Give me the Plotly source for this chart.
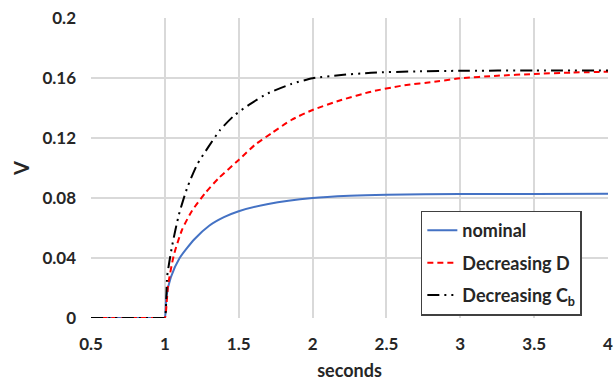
import plotly.graph_objects as go

# --- data ---
t_nominal = [0.5, 0.75, 0.99, 1.0, 1.01, 1.04, 1.1, 1.2, 1.3, 1.4, 1.5, 1.7, 2.0, 2.25,
             2.5, 3.0, 3.5, 4.0]
v_nominal = [0, 0, 0, 0, 0.014, 0.027, 0.040, 0.0525, 0.0615, 0.0672, 0.0712, 0.0760,
             0.0800, 0.0815, 0.0822, 0.0826, 0.0827, 0.0828]

t_dec_d = [0.5, 0.75, 0.99, 1.0, 1.022, 1.061, 1.117, 1.184, 1.275, 1.365, 1.5, 1.608,
           1.721, 1.856, 2.0, 2.194, 2.397, 2.6, 2.85, 3.0, 3.25, 3.5, 3.75, 4.0]
v_dec_d = [0, 0, 0, 0, 0.022, 0.042, 0.059, 0.0715, 0.0835, 0.0933, 0.1054, 0.1153,
           0.1231, 0.132, 0.1387, 0.1453, 0.1509, 0.1548, 0.1578, 0.1598, 0.1615, 0.1627,
           0.1636, 0.1642]

t_dec_cb = [0.5, 0.75, 0.99, 1.0, 1.016, 1.05, 1.095, 1.151, 1.218, 1.297, 1.376, 1.473,
            1.585, 1.698, 1.856, 2.0, 2.194, 2.397, 2.7, 3.0, 3.5, 4.0]
v_dec_cb = [0, 0, 0, 0, 0.028, 0.0485, 0.0689, 0.0867, 0.1022, 0.1144, 0.1256, 0.1353,
            0.1431, 0.1498, 0.156, 0.1598, 0.162, 0.1635, 0.1644, 0.1648, 0.165, 0.165]

x_ticks = [0.5, 1, 1.5, 2, 2.5, 3, 3.5, 4]
x_tick_text = ["0.5", "1", "1.5", "2", "2.5", "3", "3.5", "4"]
y_ticks = [0, 0.04, 0.08, 0.12, 0.16, 0.2]
y_tick_text = ["0", "0.04", "0.08", "0.12", "0.16", "0.2"]

FONT = "Lato"
TXT = "#262626"
GRID = "#d9d9d9"

fig = go.Figure()
fig.add_trace(go.Scatter(x=t_nominal, y=v_nominal, mode="lines", name="nominal",
                         legendgroup="a",
                         line=dict(color="#4472C4", width=2, shape="spline", smoothing=0.6)))
fig.add_trace(go.Scatter(x=t_dec_d, y=v_dec_d, mode="lines", name="Decreasing D",
                         legendgroup="b",
                         line=dict(color="#FF0000", width=2, dash="6px,4px",
                                   shape="spline", smoothing=0.6)))
fig.add_trace(go.Scatter(x=t_dec_cb, y=v_dec_cb, mode="lines",
                         name="Decreasing C<sub>b</sub>", legendgroup="c",
                         line=dict(color="#000000", width=2,
                                   dash="12px,5px,2px,5px,2px,5px",
                                   shape="spline", smoothing=0.6)))

fig.update_layout(
    width=616, height=384,
    margin=dict(l=91, r=3, t=18, b=66),
    paper_bgcolor="white", plot_bgcolor="white",
    font=dict(family=FONT, color=TXT),
    showlegend=True,
    legend=dict(x=0.638, y=0.358, xanchor="left", yanchor="top",
                bgcolor="white", bordercolor="#404040", borderwidth=1.5,
                font=dict(family=FONT, size=18, color=TXT, weight="bold"),
                tracegroupgap=6, traceorder="grouped"),
    xaxis=dict(range=[0.5, 4], tickmode="array", tickvals=x_ticks, ticktext=x_tick_text,
               showgrid=True, gridcolor=GRID, gridwidth=1.5, zeroline=False,
               showline=False, ticks="", ticklabelstandoff=14,
               ticklabeloverflow="allow",
               tickfont=dict(family=FONT, size=17, color=TXT, weight="bold"),
               title=dict(text="seconds", standoff=11,
                          font=dict(family=FONT, size=18, color=TXT, weight="bold"))),
    yaxis=dict(range=[0, 0.2], tickmode="array", tickvals=y_ticks, ticktext=y_tick_text,
               showgrid=True, gridcolor=GRID, gridwidth=1.5, zeroline=False,
               showline=False, ticks="", ticklabelstandoff=14,
               tickfont=dict(family=FONT, size=17, color=TXT, weight="bold"),
               title=dict(text="V", standoff=7,
                          font=dict(family=FONT, size=20, color=TXT, weight="bold"))),
)

fig.write_html("out.html")
